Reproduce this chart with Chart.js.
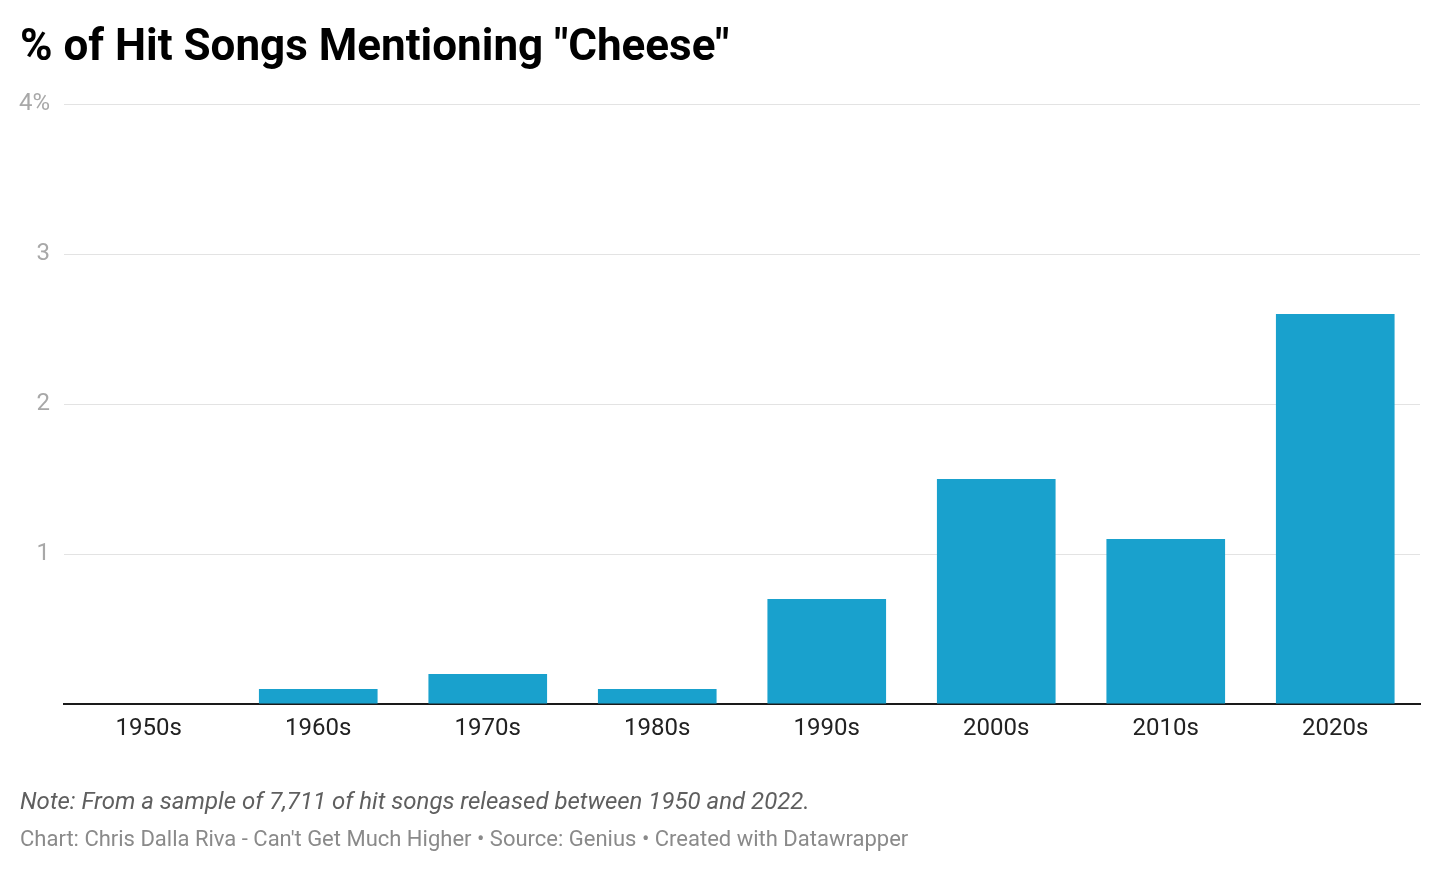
<!DOCTYPE html>
<html>
<head>
<meta charset="utf-8">
<script src="https://cdn.jsdelivr.net/npm/chart.js@4"></script>
<style>
  html, body { margin: 0; padding: 0; background: #fff; }
  body { width: 1440px; height: 872px; position: relative; overflow: hidden; font-family: Roboto, sans-serif; }
  #wrap { position: absolute; left: 0; top: 0; width: 1440px; height: 872px; }
  .title { position: absolute; left: 20px; top: 18px; font-size: 44px; font-weight: 700; color: #000; line-height: 54px; }
  .note { position: absolute; left: 20px; top: 786px; font-size: 24px; font-style: italic; color: #5f5f5f; line-height: 30px; }
  .credit { position: absolute; left: 20px; top: 825px; font-size: 22px; color: #8a8a8a; line-height: 28px; }
</style>
</head>
<body>
<div id="wrap"><canvas id="c"></canvas></div>
<div class="title">% of Hit Songs Mentioning "Cheese"</div>
<div class="note">Note: From a sample of 7,711 of hit songs released between 1950 and 2022.</div>
<div class="credit">Chart: Chris Dalla Riva - Can't Get Much Higher • Source: Genius • Created with Datawrapper</div>
<script>
const categories = ["1950s", "1960s", "1970s", "1980s", "1990s", "2000s", "2010s", "2020s"];
const shareValues = [0, 0.1, 0.2, 0.1, 0.7, 1.5, 1.1, 2.6];
const yTicks = [0, 1, 2, 3, 4];
const yTickLabels = ["", "1", "2", "3", "4%"];

new Chart(document.getElementById('c'), {
  type: 'bar',
  data: {
    labels: categories,
    datasets: [{
      data: shareValues,
      backgroundColor: '#19a1cd',
      borderWidth: 0,
      barPercentage: 0.7,
      categoryPercentage: 1.0
    }]
  },
  options: {
    responsive: true,
    maintainAspectRatio: false,
    animation: false,
    layout: { padding: { top: 104, bottom: 108, left: 0, right: 20 } },
    plugins: { legend: { display: false }, tooltip: { enabled: false } },
    scales: {
      x: {
        grid: { display: false, drawTicks: false },
        border: { display: true, color: '#1a1a1a', width: 2 },
        ticks: { color: '#222', font: { family: 'Roboto', size: 24 }, padding: 11, maxRotation: 0 },
        afterFit: (s) => { s.height = 60; }
      },
      y: {
        min: 0, max: 4,
        afterBuildTicks: (s) => { s.ticks = yTicks.map(v => ({ value: v })); },
        grid: { color: (ctx) => ctx.tick && ctx.tick.value === 0 ? 'rgba(0,0,0,0)' : '#e3e3e3', lineWidth: 1, drawTicks: false },
        border: { display: false },
        ticks: {
          color: '#a8a8a8',
          font: { family: 'Roboto', size: 24 },
          padding: 14,
          callback: (v) => yTickLabels[yTicks.indexOf(v)]
        },
        afterFit: (s) => { s.width = 64; }
      }
    }
  }
});
</script>
</body>
</html>
